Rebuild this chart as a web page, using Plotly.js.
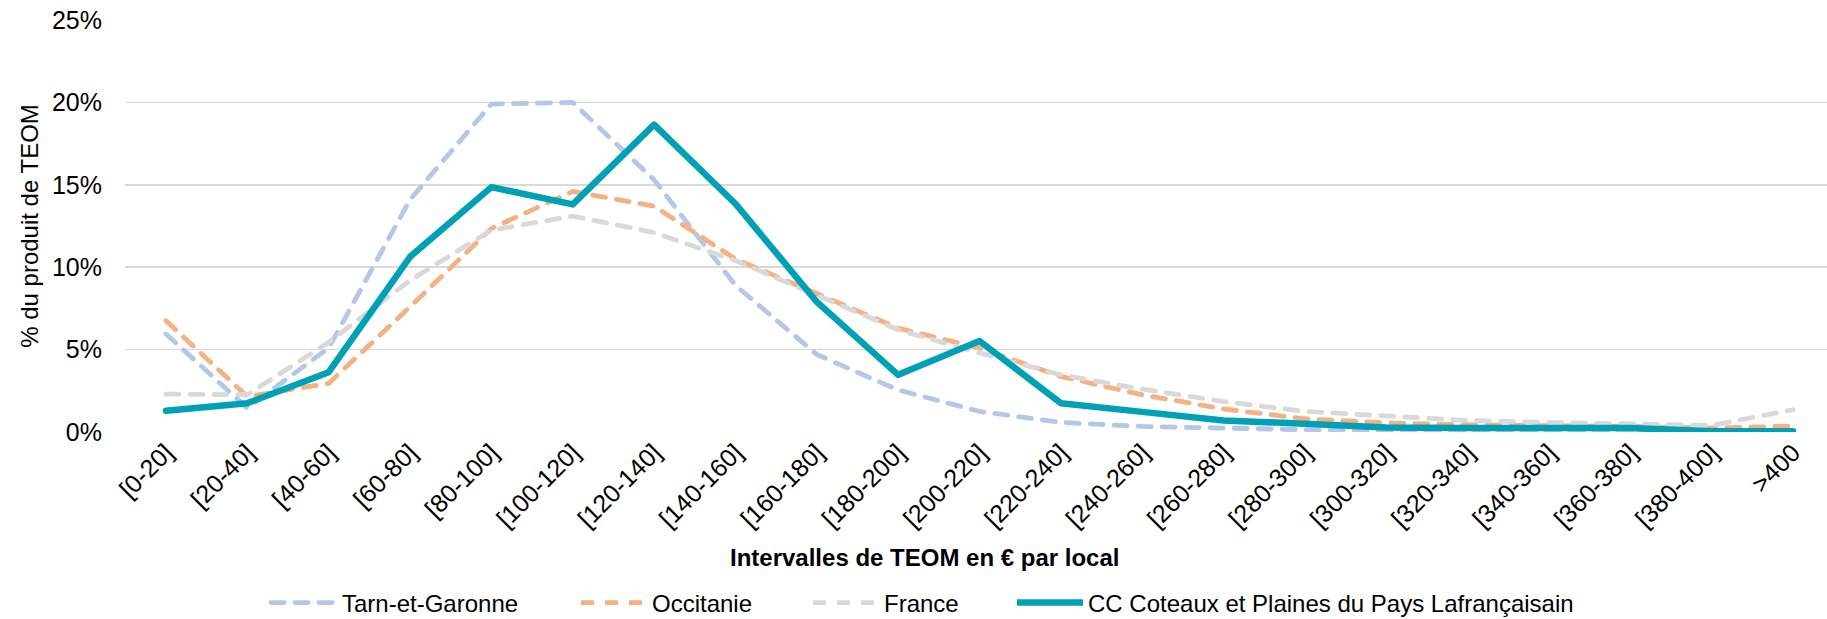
<!DOCTYPE html>
<html>
<head>
<meta charset="utf-8">
<script src="https://cdn.plot.ly/plotly-3.0.1.min.js"></script>
<style>
  html, body { margin: 0; padding: 0; background: #fff; }
  #chart { width: 1827px; height: 619px; }
  .scatterlayer .js-line, .legend .js-line { stroke-linecap: round; stroke-linejoin: round; }
</style>
</head>
<body>
<div id="chart"></div>
<script>
const categories = ['[0-20]','[20-40]','[40-60]','[60-80]','[80-100]','[100-120]','[120-140]','[140-160]','[160-180]','[180-200]','[200-220]','[220-240]','[240-260]','[260-280]','[280-300]','[300-320]','[320-340]','[340-360]','[360-380]','[380-400]','>400'];

const seriesNames = ['Tarn-et-Garonne', 'Occitanie', 'France', 'CC Coteaux et Plaines du Pays Lafrançaisain'];

const tarnEtGaronne = [5.95, 1.45, 5.1, 14.1, 19.9, 20.0, 15.3, 8.9, 4.7, 2.55, 1.25, 0.58, 0.34, 0.22, 0.14, 0.1, 0.08, 0.06, 0.05, 0.04, 0.04];
const occitanie     = [6.75, 2.15, 2.95, 7.6, 12.35, 14.6, 13.7, 10.5, 8.4, 6.3, 5.1, 3.37, 2.26, 1.4, 0.8, 0.55, 0.44, 0.4, 0.34, 0.24, 0.36];
const france        = [2.3, 2.26, 5.45, 9.2, 12.25, 13.1, 12.1, 10.4, 8.3, 6.2, 4.8, 3.47, 2.6, 1.85, 1.25, 0.95, 0.7, 0.58, 0.5, 0.4, 1.35];
const ccLafrancaisain = [1.29, 1.75, 3.63, 10.63, 14.86, 13.81, 18.65, 13.85, 7.9, 3.47, 5.52, 1.75, 1.22, 0.7, 0.5, 0.28, 0.25, 0.25, 0.24, 0.04, 0.04];

const yTickVals = [0, 5, 10, 15, 20, 25];
const yTickLabels = ['0%', '5%', '10%', '15%', '20%', '25%'];

const xAxisTitle = 'Intervalles de TEOM en € par local';
const yAxisTitle = '% du produit de TEOM';

const FONT = '"Liberation Sans", Arial, sans-serif';
const dashStyle = '13px,11px';

const seriesStyles = [
  { color: '#B4C7E7', dash: dashStyle, width: 4.8, legend: 'legend',  lx: 266 },
  { color: '#F4B183', dash: dashStyle, width: 4.8, legend: 'legend2', lx: 576 },
  { color: '#D9D9D9', dash: dashStyle, width: 4.8, legend: 'legend3', lx: 808 },
  { color: '#00A0B5', dash: 'solid',   width: 6.5, legend: 'legend4', lx: 1012 }
];
const seriesValues = [tarnEtGaronne, occitanie, france, ccLafrancaisain];

const traces = seriesValues.map((vals, i) => ({
  type: 'scatter',
  mode: 'lines',
  x: categories,
  y: vals,
  name: seriesNames[i],
  legend: seriesStyles[i].legend,
  line: { color: seriesStyles[i].color, width: seriesStyles[i].width, dash: seriesStyles[i].dash },
  hoverinfo: 'x+y+name'
}));

function legendAt(px) {
  return {
    orientation: 'h',
    xref: 'container', yref: 'container',
    x: px / 1827, xanchor: 'left',
    y: 16 / 619, yanchor: 'middle',
    font: { family: FONT, size: 24, color: '#000' },
    itemwidth: 66,
    bgcolor: 'rgba(0,0,0,0)'
  };
}

const layout = {
  width: 1827,
  height: 619,
  margin: { l: 125, r: 0, t: 20, b: 187 },
  paper_bgcolor: '#fff',
  plot_bgcolor: '#fff',
  font: { family: FONT, size: 24, color: '#000' },
  showlegend: true,
  legend: legendAt(seriesStyles[0].lx),
  legend2: legendAt(seriesStyles[1].lx),
  legend3: legendAt(seriesStyles[2].lx),
  legend4: legendAt(seriesStyles[3].lx),
  xaxis: {
    type: 'category',
    range: [-0.504, 20.418],
    tickangle: -45,
    tickfont: { family: FONT, size: 25, color: '#000' },
    showgrid: false,
    zeroline: false,
    showline: false,
    ticks: '',
    automargin: false
  },
  yaxis: {
    range: [0, 25],
    tickmode: 'array',
    tickvals: yTickVals,
    ticktext: yTickLabels,
    tickfont: { family: FONT, size: 25, color: '#000' },
    showgrid: true,
    gridcolor: '#D9D9D9',
    gridwidth: 1.5,
    zeroline: false,
    showline: false,
    ticks: '',
    ticklabelstandoff: 22,
    automargin: false,
    title: { text: yAxisTitle, font: { family: FONT, size: 24, color: '#000' }, standoff: 6 }
  },
  annotations: [{
    text: '<b>' + xAxisTitle + '</b>',
    xref: 'paper', yref: 'paper',
    x: (924 - 125) / 1702, xanchor: 'center',
    y: (432.3 - 558) / 412.3, yanchor: 'middle',
    showarrow: false,
    font: { family: FONT, size: 24, color: '#000' }
  }]
};

Plotly.newPlot('chart', traces, layout, { displayModeBar: false, staticPlot: true });
</script>
</body>
</html>
